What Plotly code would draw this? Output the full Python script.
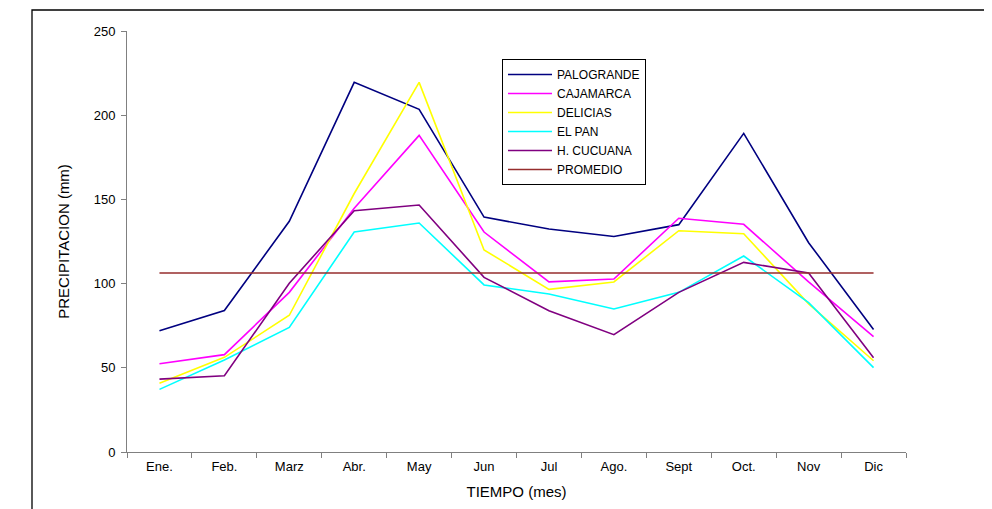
import plotly.graph_objects as go

months = ["Ene.", "Feb.", "Marz", "Abr.", "May", "Jun", "Jul", "Ago.", "Sept", "Oct.", "Nov", "Dic"]

palogrande = [72, 84, 137, 219.5, 203.5, 139.5, 132.4, 128, 135, 189.2, 124.3, 72.8]
cajamarca = [52.4, 57.8, 94.8, 144.7, 188, 130.6, 101, 102.7, 138.8, 135.2, 101, 68.5]
delicias = [40.8, 56.2, 81.2, 153.5, 219.5, 120, 96.6, 101, 131.4, 129.6, 88, 54.2]
el_pan = [37.2, 54.6, 74, 130.6, 136, 99.2, 93.8, 84.9, 94.8, 116.4, 88.7, 50.1]
h_cucuana = [43.3, 45.3, 100.2, 143.3, 146.7, 103.7, 83.9, 69.7, 94.8, 112.6, 106.3, 56]
promedio = [106.3] * 12

series = [
    ("PALOGRANDE", palogrande, "#000080"),
    ("CAJAMARCA", cajamarca, "#FF00FF"),
    ("DELICIAS", delicias, "#FFFF00"),
    ("EL PAN", el_pan, "#00FFFF"),
    ("H. CUCUANA", h_cucuana, "#800080"),
    ("PROMEDIO", promedio, "#962D2D"),
]

fig = go.Figure()
for name, vals, color in series:
    fig.add_trace(go.Scatter(
        x=months, y=vals, name=name, mode="lines",
        line=dict(color=color, width=1.6),
    ))

# page body has an 8px margin; compensate so marks land where the reference has them
OFF = 8
W, H = 992, 509
L, T = 127 - OFF, 31 - OFF
pw, ph = 779, 421
R = W - L - pw
B = H - T - ph

def px(x):
    return (x - OFF - L) / pw

def py(y):
    return (T + ph - (y - OFF)) / ph

fig.update_layout(
    width=W, height=H,
    margin=dict(l=L, r=R, t=T, b=B),
    paper_bgcolor="white", plot_bgcolor="white",
    font=dict(family="Liberation Sans, Arial, sans-serif", size=13, color="black"),
    showlegend=True,
    legend=dict(
        x=px(502), y=py(59), xanchor="left", yanchor="top",
        bgcolor="white", bordercolor="black", borderwidth=1,
        font=dict(size=12, family="Liberation Sans, Arial, sans-serif"),
        tracegroupgap=0, itemwidth=44,
    ),
    shapes=[dict(
        type="rect", xref="paper", yref="paper",
        x0=px(32), x1=px(987),
        y0=py(540), y1=py(10),
        line=dict(color="black", width=1.3), fillcolor="rgba(0,0,0,0)", layer="below",
    )],
)

fig.update_xaxes(
    type="category", range=[-0.5, 11.5], tickson="boundaries",
    ticks="outside", ticklen=5, tickcolor="#808080",
    showline=True, linecolor="#808080", linewidth=1,
    showgrid=False, zeroline=False,
    ticklabelstandoff=2,
    title=dict(text="TIEMPO (mes)", font=dict(size=15), standoff=13),
    tickfont=dict(size=13),
)
fig.update_yaxes(
    range=[0, 250], dtick=50,
    ticks="outside", ticklen=5, tickcolor="#808080",
    showline=True, linecolor="#808080", linewidth=1,
    showgrid=False, zeroline=False,
    ticklabelstandoff=3,
    title=dict(text="PRECIPITACION (mm)", font=dict(size=15), standoff=20),
    tickfont=dict(size=13),
)

fig.write_html("out.html")
